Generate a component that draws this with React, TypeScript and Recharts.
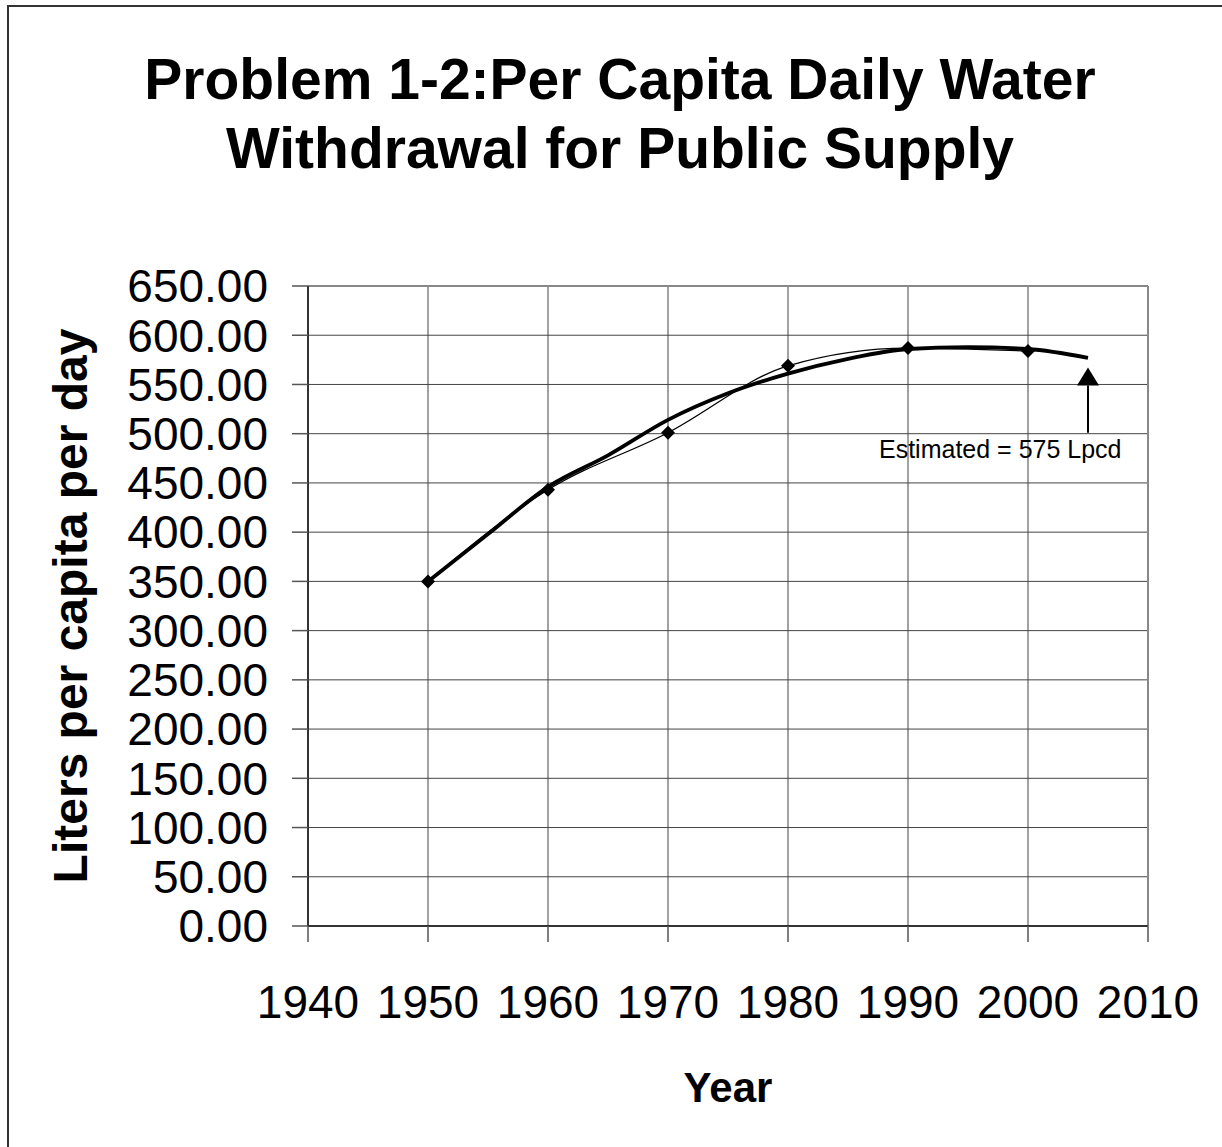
import {
  LineChart,
  Line,
  XAxis,
  YAxis,
  CartesianGrid,
  ReferenceLine,
  ReferenceDot,
  Label,
} from "recharts";

const FONT = "'Liberation Sans', Arial, sans-serif";

// measured points
const observedYears = [1950, 1960, 1970, 1980, 1990, 2000];
const observedValues = [350, 443, 501, 569, 587, 584];

// trendline every 5 years
const trendYears = [1950, 1955, 1960, 1965, 1970, 1975, 1980, 1985, 1990, 1995, 2000, 2005];
const trendValues = [350, 398, 446, 478, 514, 541, 561, 576, 586, 588, 586, 577];

const xTicks = [1940, 1950, 1960, 1970, 1980, 1990, 2000, 2010];
const yTicks = [0, 50, 100, 150, 200, 250, 300, 350, 400, 450, 500, 550, 600, 650];

const titleLines = ["Problem 1-2:Per Capita Daily Water", "Withdrawal for Public Supply"];
const xTitle = "Year";
const yTitle = "Liters per capita per day";

const estimateYear = 2005;
const estimateText = "Estimated = 575 Lpcd";
const arrowBottom = 501;
const arrowTop = 549;
const arrowHead = 558;

const observed = observedYears.map((year, i) => ({ year, value: observedValues[i] }));
const trend = trendYears.map((year, i) => ({ year, value: trendValues[i] }));

function Diamond(props: any) {
  const { cx, cy, index } = props;
  if (cx == null || cy == null) return null;
  const r = 7;
  return (
    <path
      key={`d-${index}`}
      d={`M${cx},${cy - r}L${cx + r},${cy}L${cx},${cy + r}L${cx - r},${cy}Z`}
      fill="#000"
    />
  );
}

function ArrowHead(props: any) {
  const { cx, cy } = props;
  return (
    <path
      d={`M${cx},${cy - 9}L${cx + 11},${cy + 9}L${cx - 11},${cy + 9}Z`}
      fill="#000"
    />
  );
}

export default function App() {
  return (
    <div style={{ position: "absolute", left: 0, top: 0, width: 1222, height: 1147, background: "#fff" }}>
      <div
        style={{
          position: "absolute",
          left: 7,
          top: 5,
          width: 1215,
          height: 1142,
          borderLeft: "2px solid #333",
          borderTop: "2px solid #333",
        }}
      />
      <div
        style={{
          position: "absolute",
          left: 18,
          top: 45,
          width: 1204,
          textAlign: "center",
          fontFamily: FONT,
          fontWeight: "bold",
          fontSize: 57,
          lineHeight: "69px",
          color: "#000",
          whiteSpace: "nowrap",
        }}
      >
        {titleLines.map((t) => (
          <div key={t}>{t}</div>
        ))}
      </div>

      <LineChart
        width={1222}
        height={1147}
        margin={{ top: 286, right: 74, left: 188, bottom: 141 }}
        style={{ position: "absolute", left: 0, top: 0 }}
      >
        <CartesianGrid stroke="#444" strokeWidth={1} />

        <XAxis
          dataKey="year"
          type="number"
          domain={[1940, 2010]}
          ticks={xTicks}
          interval={0}
          height={80}
          tickSize={16}
          tickMargin={43}
          axisLine={{ stroke: "#333", strokeWidth: 2 }}
          tickLine={{ stroke: "#555", strokeWidth: 1.5 }}
          tick={{ fill: "#000", fontSize: 46, fontFamily: FONT }}
          allowDuplicatedCategory={false}
        >
          <Label
            value={xTitle}
            position="bottom"
            offset={66}
            fill="#000"
            fontSize={42}
            fontWeight="bold"
            fontFamily={FONT}
          />
        </XAxis>

        <YAxis
          dataKey="value"
          type="number"
          domain={[0, 650]}
          ticks={yTicks}
          interval={0}
          width={120}
          tickSize={16}
          tickMargin={24}
          axisLine={{ stroke: "#333", strokeWidth: 2 }}
          tickLine={{ stroke: "#555", strokeWidth: 1.5 }}
          tick={{ fill: "#000", fontSize: 46, fontFamily: FONT }}
          tickFormatter={(v: number) => v.toFixed(2)}
        >
          <Label
            content={(p: any) => {
              const vb = p.viewBox;
              const x = vb.x - 101;
              const y = vb.y + vb.height / 2;
              return (
                <text
                  x={x}
                  y={y}
                  transform={`rotate(-90, ${x}, ${y})`}
                  textAnchor="middle"
                  fill="#000"
                  fontSize={48}
                  fontWeight="bold"
                  fontFamily={FONT}
                >
                  {yTitle}
                </text>
              );
            }}
          />
        </YAxis>

        <ReferenceLine y={650} stroke="#888" strokeWidth={2} />
        <ReferenceLine x={2010} stroke="#888" strokeWidth={2} />

        <Line
          data={trend}
          dataKey="value"
          type="monotone"
          stroke="#000"
          strokeWidth={3.8}
          dot={false}
          activeDot={false}
          isAnimationActive={false}
        />
        <Line
          data={observed}
          dataKey="value"
          type="monotone"
          stroke="#000"
          strokeWidth={1.3}
          dot={Diamond}
          activeDot={false}
          isAnimationActive={false}
        />

        <ReferenceLine
          segment={[
            { x: estimateYear, y: arrowBottom },
            { x: estimateYear, y: arrowTop },
          ]}
          stroke="#000"
          strokeWidth={2}
        >
          <Label
            content={(p: any) => {
              const vb = p.viewBox;
              return (
                <text
                  x={vb.x - 209}
                  y={vb.y + vb.height + 25}
                  fill="#000"
                  fontSize={25}
                  fontFamily={FONT}
                >
                  {estimateText}
                </text>
              );
            }}
          />
        </ReferenceLine>
        <ReferenceDot x={estimateYear} y={arrowHead} shape={ArrowHead} />
      </LineChart>
    </div>
  );
}
